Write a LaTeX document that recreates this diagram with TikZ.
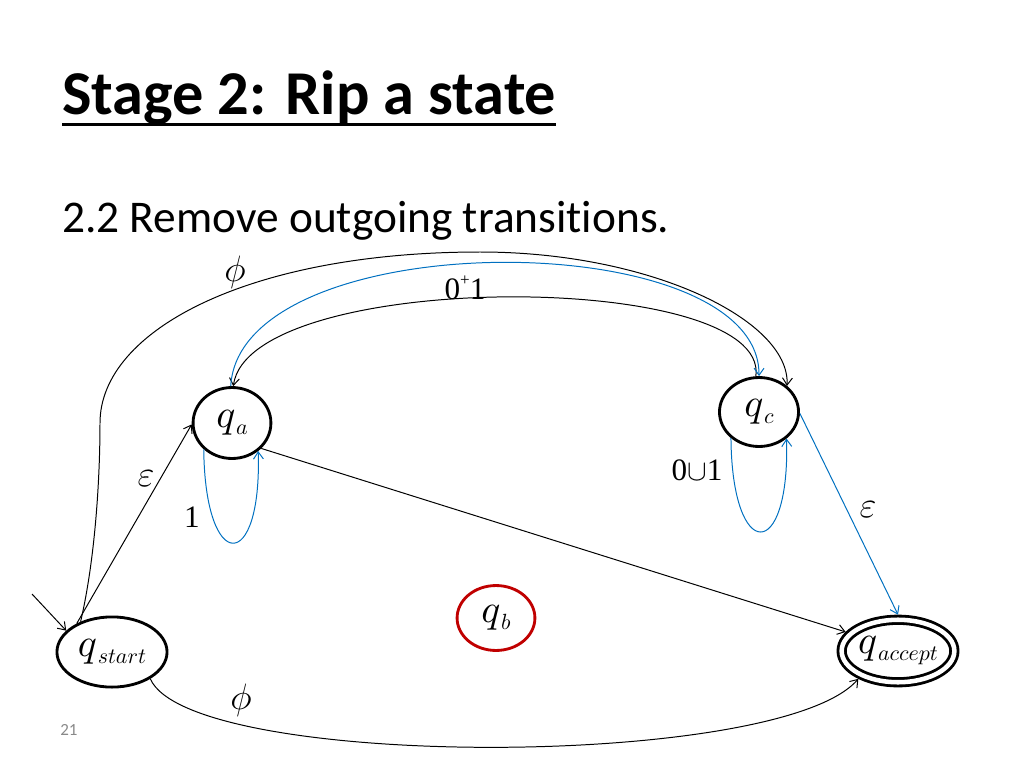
\documentclass[tikz,border=0pt]{standalone}
\usepackage{fontspec}
\setmainfont{Liberation Serif}
\newfontfamily\calibri[Ligatures=NoCommon]{Carlito}
\usetikzlibrary{shapes.geometric}
\usetikzlibrary{arrows.meta}
\definecolor{edgeblue}{RGB}{0,112,192}
\definecolor{ripred}{RGB}{192,0,0}
\definecolor{footgray}{RGB}{137,137,137}
\newcommand{\sq}[1]{\scalebox{2.8}{$q$}\kern0.5pt\raisebox{-0.5em}{\scalebox{1.55}{$#1$}}}
\newcommand{\lsym}[1]{\scalebox{1.25}{$#1$}}
\tikzset{
  state/.style={ellipse,draw,line width=2pt,inner sep=0pt},
  accept/.style={state,double,double distance=3.2pt,outer sep=3.6pt},
  lbl/.style={inner sep=0pt,font=\fontsize{22}{22}\selectfont},
  trans/.style={line width=0.7pt}
}

\begin{document}
\begin{tikzpicture}[x=0.0248cm,y=-0.0248cm,>={Straight Barb[length=5pt,width=7pt]}]
\useasboundingbox (0,0) rectangle (1024,768);
\node[anchor=base west,inner sep=0pt,font=\calibri\bfseries\fontsize{44}{44}\selectfont] (title) at (62,115) {Stage 2: Rip a state};
\draw[line width=2.2pt] ([yshift=-7pt]title.base west) -- ([yshift=-7pt]title.base east);
\node[anchor=base west,inner sep=0pt,font=\calibri\fontsize{32}{32}\selectfont] (step) at (62,232) {2.2 Remove outgoing transitions.};
\node[anchor=base west,inner sep=0pt,font=\calibri\fontsize{12}{12}\selectfont,text=footgray] (pagenum) at (60,735) {21};

% states
\node[state,minimum width=2.73cm,minimum height=1.74cm] (qs) at (112,652) {\sq{start}};
\node[state,minimum width=1.93cm,minimum height=1.76cm] (qa) at (232,423) {\sq{a}};
\node[state,draw=ripred,minimum width=1.93cm,minimum height=1.61cm] (qb) at (496,618) {\sq{b}};
\node[state,minimum width=1.96cm,minimum height=1.71cm] (qc) at (759,412) {\sq{c}};
\node[accept,minimum width=2.75cm,minimum height=1.55cm] (qacc) at (898,651) {\sq{accept}};

% transitions
\coordinate (init) at (32,594);
\draw[trans,->] (init) -- (qs.155);
\draw[trans,->] (qs.141) -- (qa.182);
\draw[trans,->] (qs.136) .. controls (95,560) and (100,480) .. (100,423) .. controls (100,330) and (250,252) .. (480,252) .. controls (650,252) and (790,320) .. (qc.43);
\draw[trans,->] (qc.95) .. controls (770,269) and (250,269) .. (qa.88);
\draw[trans,->,edgeblue] (qa.92) .. controls (240,223) and (760,223) .. (qc.90);
\draw[trans,->] (qa.-41) -- (qacc.160);
\draw[trans,->] (qs.-35) .. controls (190,770) and (780,770) .. (qacc.215);
\draw[trans,->,edgeblue] (qa.223) .. controls (205,574) and (262,574) .. (qa.-47);
\draw[trans,->,edgeblue] (qc.223) .. controls (732,563) and (790,563) .. (qc.-44);
\draw[trans,->,edgeblue] (qc.-2) -- (qacc.90);

% labels
\node[lbl] (phitop) at (235,272) {\lsym{\phi}};
\node[lbl] (loop) at (465,288) {0\raisebox{0.45em}{\fontsize{12}{12}\selectfont+}1};
\node[lbl] (epsa) at (146,479) {\lsym{\varepsilon}};
\node[lbl] (one) at (192,517) {1};
\node[lbl] (union) at (697,470) {0$\cup$1};
\node[lbl] (epsc) at (868,510) {\lsym{\varepsilon}};
\node[lbl] (phibot) at (241,700) {\lsym{\phi}};
\end{tikzpicture}
\end{document}
